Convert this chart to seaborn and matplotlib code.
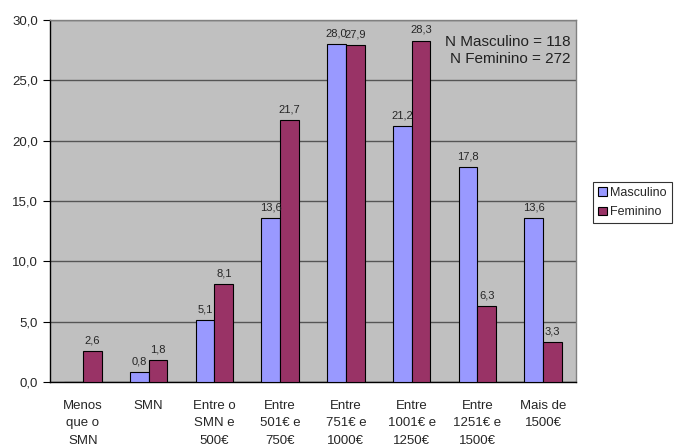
import numpy as np
import pandas as pd
import seaborn as sns
import matplotlib.pyplot as plt
from matplotlib.ticker import FixedLocator, FuncFormatter

# Data
categorias = ['Menos\nque o\nSMN', 'SMN', 'Entre o\nSMN e\n500€', 'Entre\n501€ e\n750€',
              'Entre\n751€ e\n1000€', 'Entre\n1001€ e\n1250€', 'Entre\n1251€ e\n1500€',
              'Mais de\n1500€']
masculino = [0.0, 0.8, 5.1, 13.6, 28.0, 21.2, 17.8, 13.6]
feminino = [2.6, 1.8, 8.1, 21.7, 27.9, 28.3, 6.3, 3.3]
series = ['Masculino', 'Feminino']
cores = ['#9999FF', '#993366']

df = pd.DataFrame({
    'Categoria': categorias * 2,
    'Valor': masculino + feminino,
    'Sexo': [series[0]] * len(categorias) + [series[1]] * len(categorias),
})

sns.set_style('white')
plt.rcParams['font.family'] = ['Liberation Sans', 'DejaVu Sans']

fig = plt.figure(figsize=(6.74, 4.45), dpi=100)
ax = fig.add_axes([0.0742, 0.1416, 0.7804, 0.8134])
ax.set_facecolor('#C0C0C0')

sns.barplot(data=df, x='Categoria', y='Valor', hue='Sexo', palette=cores, saturation=1,
            width=0.57, edgecolor='black', linewidth=0.8, ax=ax, zorder=3)

# value labels
for cont, vals in zip(ax.containers, [masculino, feminino]):
    labels = [('' if v == 0 else f'{v:.1f}'.replace('.', ',')) for v in vals]
    ax.bar_label(cont, labels=labels, padding=4, fontsize=8)

ax.set_ylim(0, 30)
ax.set_xlim(-0.5, len(categorias) - 0.5)
ax.set_yticks(np.arange(0, 31, 5))
ax.yaxis.set_major_formatter(FuncFormatter(lambda v, p: f'{v:.1f}'.replace('.', ',')))
ax.grid(axis='y', color='#555555', linewidth=1.0, zorder=0)
ax.set_axisbelow(True)
ax.set_xlabel('')
ax.set_ylabel('')

# category separator ticks
ax.xaxis.set_minor_locator(FixedLocator(np.arange(-0.5, len(categorias), 1)))
ax.tick_params(axis='x', which='major', length=0, labelsize=9.5, pad=13)
ax.tick_params(axis='x', which='minor', length=5, width=0.8, color='black', direction='out')
ax.tick_params(axis='y', which='major', length=5, width=0.8, color='black',
               direction='out', labelsize=9.5, left=True)
for lbl in ax.get_xticklabels():
    lbl.set_linespacing(1.6)
    lbl.set_verticalalignment('top')

for side in ['top', 'right']:
    ax.spines[side].set_color('#808080')
    ax.spines[side].set_linewidth(1.0)
for side in ['left', 'bottom']:
    ax.spines[side].set_color('black')
    ax.spines[side].set_linewidth(1.0)

ax.text(0.99, 0.96, 'N Masculino = 118\nN Feminino = 272', transform=ax.transAxes,
        ha='right', va='top', fontsize=11, color='#222222', linespacing=1.3, zorder=5)

leg = ax.legend(loc='upper left', bbox_to_anchor=(1.02, 0.57), fontsize=9,
                frameon=True, fancybox=False, edgecolor='black', handlelength=0.7,
                handleheight=0.7, handletextpad=0.3, borderpad=0.4, labelspacing=0.6)
leg.get_frame().set_linewidth(0.8)

plt.savefig('out.png', dpi=100)
